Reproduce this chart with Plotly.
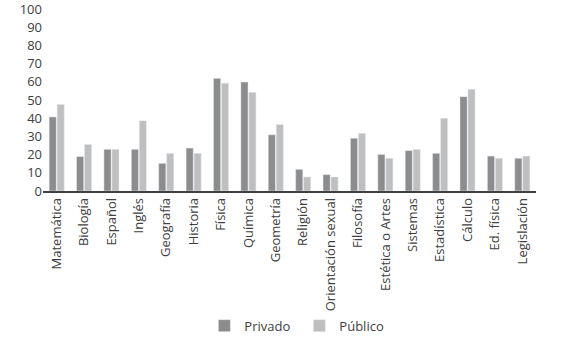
import plotly.graph_objects as go

categories = ["Matemática", "Biología", "Español", "Inglés", "Geografía", "Historia",
              "Física", "Química", "Geometría", "Religión", "Orientación sexual",
              "Filosofía", "Estética o Artes", "Sistemas", "Estadística", "Cálculo",
              "Ed. física", "Legislación"]
privado = [40.7, 18.9, 22.9, 22.9, 15.2, 23.6, 61.9, 59.9, 30.9, 11.9, 9.0,
           29.0, 20.1, 22.2, 20.7, 51.8, 19.2, 18.0]
publico = [47.6, 25.6, 22.9, 38.6, 20.7, 20.7, 59.2, 54.2, 36.6, 7.7, 7.7,
           31.7, 18.0, 22.9, 40.0, 55.9, 18.0, 19.2]
y_ticks = [0, 10, 20, 30, 40, 50, 60, 70, 80, 90, 100]

font_family = "Open Sans, Noto Sans, sans-serif"
text_color = "#404040"

fig = go.Figure()
fig.add_trace(go.Bar(name="Privado", x=categories, y=privado, marker_color="#8c8c8c"))
fig.add_trace(go.Bar(name="Público", x=categories, y=publico, marker_color="#bfbfbf"))

fig.update_layout(
    width=583, height=347,
    margin=dict(l=43, r=47, t=9, b=156, autoexpand=False),
    paper_bgcolor="white", plot_bgcolor="white",
    barmode="group", bargap=0.42, bargroupgap=0.1,
    font=dict(family=font_family, size=13, color=text_color),
    showlegend=True,
    legend=dict(orientation="h", x=0.52, xanchor="center", y=-0.74, yanchor="middle",
                font=dict(size=13, color=text_color), itemwidth=30,
                entrywidth=50, traceorder="normal"),
    xaxis=dict(tickangle=-90, showline=True, linecolor="#404040", linewidth=1.5,
               ticks="", showgrid=False, automargin=False,
               tickfont=dict(size=13, color=text_color)),
    yaxis=dict(range=[0, 100], tickvals=y_ticks, showgrid=False, zeroline=False,
               showline=False, ticks="", automargin=False, ticklabeloverflow="allow",
               tickfont=dict(size=13, color=text_color)),
)

fig.write_html("out.html", config={"displayModeBar": False},
               post_script="document.body.style.margin='0';")
